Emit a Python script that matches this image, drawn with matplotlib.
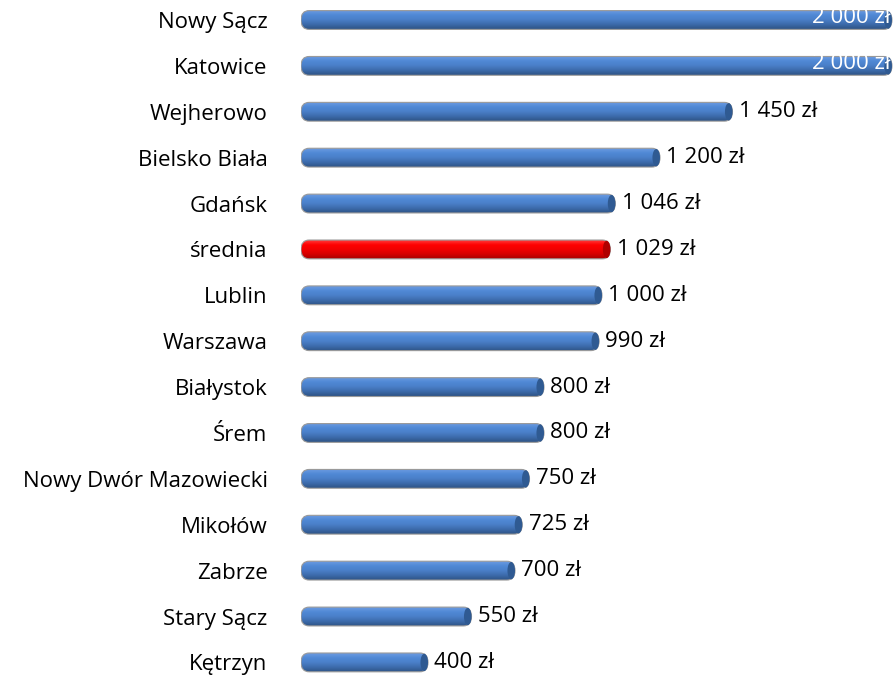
import numpy as np
import matplotlib
matplotlib.use("Agg")
import matplotlib.pyplot as plt
from matplotlib.patches import FancyBboxPatch, Ellipse
from matplotlib.colors import LinearSegmentedColormap

# Data
cities = ["Nowy Sącz", "Katowice", "Wejherowo", "Bielsko Biała", "Gdańsk", "średnia",
          "Lublin", "Warszawa", "Białystok", "Śrem", "Nowy Dwór Mazowiecki", "Mikołów",
          "Zabrze", "Stary Sącz", "Kętrzyn"]
values = [2000, 2000, 1450, 1200, 1046, 1029, 1000, 990, 800, 800, 750, 725, 700, 550, 400]
highlight = "średnia"

plt.rcParams["font.family"] = ["Open Sans", "DejaVu Sans"]
fs = 16

fig = plt.figure(figsize=(8.94, 6.78), dpi=100)
ax = fig.add_axes([301 / 894, 0.0, 593 / 894, 1.0])

ypos = np.arange(len(cities))
h = 0.41

blue = LinearSegmentedColormap.from_list("b", ["#6c9be0", "#5089d6", "#4a7fc8", "#3d6bab", "#2e5486"])
red = LinearSegmentedColormap.from_list("r", ["#ff3a3a", "#ff0000", "#f00000", "#d40000", "#a80000"])

grad = np.linspace(0, 1, 64).reshape(-1, 1)
bars = ax.barh(ypos, values, height=h, color="none", edgecolor="none")

lead = 38  # rounded left end sticks out before zero
for y, v, name, bar in zip(ypos, values, cities, bars):
    cmap = red if name == highlight else blue
    capc = "#b00000" if name == highlight else "#2f5a92"
    x0, y0 = bar.get_x(), bar.get_y()
    w, hh = bar.get_width(), bar.get_height()
    rs = 28
    box = FancyBboxPatch((x0 - lead, y0), w + lead, hh, boxstyle=f"round,pad=0,rounding_size={rs}",
                         mutation_aspect=(hh / 2) / rs, facecolor="none",
                         edgecolor="#9a9a9a", linewidth=0.8, zorder=3)
    ax.add_patch(box)
    im = ax.imshow(grad, extent=[x0 - lead, x0 + w, y0 + hh, y0], aspect="auto",
                   cmap=cmap, zorder=2, interpolation="bilinear")
    im.set_clip_path(box)
    cap = Ellipse((x0 + w - 13, y), 26, hh * 0.92, facecolor=capc, edgecolor="none", zorder=4)
    ax.add_patch(cap)

    label = f"{v:,}".replace(",", " ") + " zł"
    if v >= 2000:
        ax.text(v - 6, y - 0.06, label, ha="right", va="center", color="white",
                fontsize=fs, zorder=5)
    else:
        ax.text(v + 22, y, label, ha="left", va="center", color="black", fontsize=fs, zorder=5)

ax.set_xlim(-lead, 2007)
ax.set_ylim(14.34, -0.436)
ax.set_yticks(ypos)
ax.set_yticklabels(cities, fontsize=fs)
ax.tick_params(axis="y", length=0, pad=24)
ax.set_xticks([])
for s in ax.spines.values():
    s.set_visible(False)

fig.savefig("out.png", dpi=100)
